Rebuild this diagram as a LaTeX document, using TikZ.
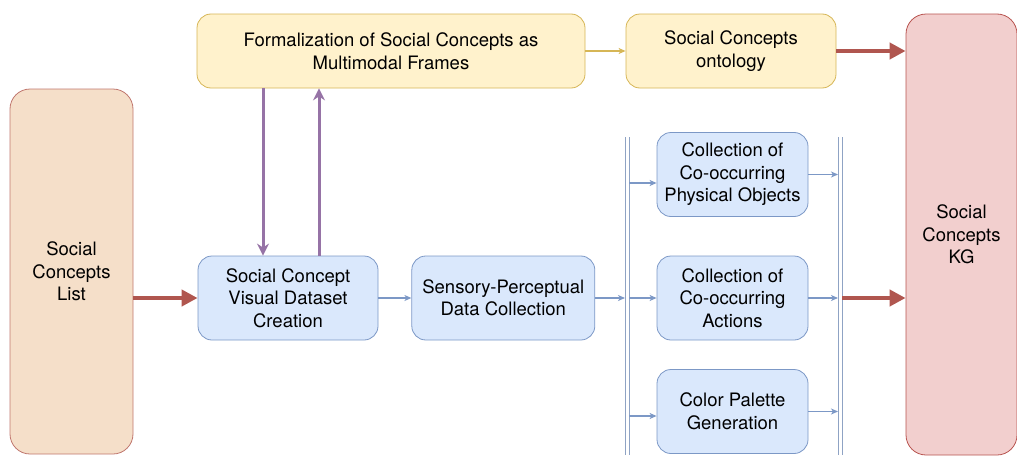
\documentclass[tikz,border=0pt]{standalone}
\usepackage{fontspec}
\setmainfont{TeX Gyre Heros}
\usetikzlibrary{arrows.meta,positioning}

\definecolor{peachfill}{HTML}{F5DFC9}
\definecolor{peachline}{HTML}{C0776E}
\definecolor{pinkfill}{HTML}{F2CFCE}
\definecolor{pinkline}{HTML}{B85450}
\definecolor{yelfill}{HTML}{FFF2CC}
\definecolor{yelline}{HTML}{D6B656}
\definecolor{bluefill}{HTML}{DAE8FC}
\definecolor{blueline}{HTML}{7C98C6}
\definecolor{busline}{HTML}{8FA3C4}
\definecolor{purpline}{HTML}{9673A6}
\definecolor{redarrow}{HTML}{B0564F}

\begin{document}
\begin{tikzpicture}[
        x=1pt, y=-1pt,
        >=latex,
        txt/.style={align=center, inner sep=0pt, font=\fontsize{18.5}{22.5}\selectfont},
        bigbox/.style={txt, draw=peachline, fill=peachfill, rounded corners=20pt, line width=0.8pt},
        yelbox/.style={txt, draw=yelline, fill=yelfill, rounded corners=14pt, line width=0.8pt},
        bluebox/.style={txt, draw=blueline, fill=bluefill, rounded corners=14pt, line width=0.8pt},
        thick arrow/.style={-{Triangle[length=16pt,width=16pt]}, draw=redarrow, line width=4pt},
        loop arrow/.style={-{Stealth[length=12pt,width=12pt,inset=4pt]}, draw=purpline, line width=3pt},
        thin arrow/.style={-{Stealth[length=7pt,width=6pt,inset=2pt]}, draw=blueline, line width=1.3pt},
        bus/.style={draw=busline, line width=1pt}
    ]

    \useasboundingbox (0,0) rectangle (1017,455);

    % side boxes
    \node [bigbox, minimum width=123pt, minimum height=365pt] (list) at (71.5,271.5) {Social\\Concepts\\List};
    \node [bigbox, draw=pinkline, fill=pinkfill, minimum width=111pt, minimum height=441pt] (kg) at (961.5,234.5) {Social\\Concepts\\KG};

    % top row
    \node [yelbox, minimum width=388pt, minimum height=74pt] (form) at (391,51) {Formalization of Social Concepts as\\Multimodal Frames};
    \node [yelbox, minimum width=210pt, minimum height=74pt] (onto) at (731,51) {Social Concepts\\ontology};

    % pipeline
    \node [bluebox, minimum width=180pt, minimum height=84pt] (vis) at (288,298) {Social Concept\\Visual Dataset\\Creation};
    \node [bluebox, minimum width=183pt, minimum height=84pt, right=33pt of vis] (sens) {Sensory-Perceptual\\Data Collection};
    \node [bluebox, minimum width=151pt, minimum height=84pt] (obj) at (732.5,174.5) {Collection of\\Co-occurring\\Physical Objects};
    \node [bluebox, minimum width=151pt, minimum height=84pt] (act) at (732.5,298) {Collection of\\Co-occurring\\Actions};
    \node [bluebox, minimum width=151pt, minimum height=84pt] (pal) at (732.5,411.5) {Color Palette\\Generation};

    % bus lines
    \coordinate (busL) at (625,137);
    \coordinate (busR) at (838,137);
    \draw [bus] (busL) -- ++(0,318);
    \draw [bus] ([xshift=4pt]busL) -- ++(0,318);
    \draw [bus] (busR) -- ++(0,318);
    \draw [bus] ([xshift=4pt]busR) -- ++(0,318);

    % arrows
    \draw [thick arrow] (list.east |- vis) -- (vis);
    \draw [thick arrow] (onto) -- (onto -| kg.west);
    \draw [thick arrow] ([xshift=4pt]busR |- act) -- (act -| kg.west);

    \draw [loop arrow] (form.south -| 263,0) -- (vis.north -| 263,0);
    \draw [loop arrow] (vis.north -| 319,0) -- (form.south -| 319,0);

    \draw [thin arrow, draw=yelline] (form) -- (onto);
    \draw [thin arrow] (vis) -- (sens);
    \draw [thin arrow] (sens) -- (sens -| busL);

    \coordinate (o1) at (629,183);
    \coordinate (p1) at (629,416);
    \draw [thin arrow] (o1) -- (o1 -| obj.west);
    \draw [thin arrow] ([xshift=4pt]busL |- act) -- (act);
    \draw [thin arrow] (p1) -- (p1 -| pal.west);

    \draw [thin arrow] (obj) -- (obj -| busR);
    \draw [thin arrow] (act) -- (act -| busR);
    \draw [thin arrow] (pal) -- (pal -| busR);
\end{tikzpicture}
\end{document}
